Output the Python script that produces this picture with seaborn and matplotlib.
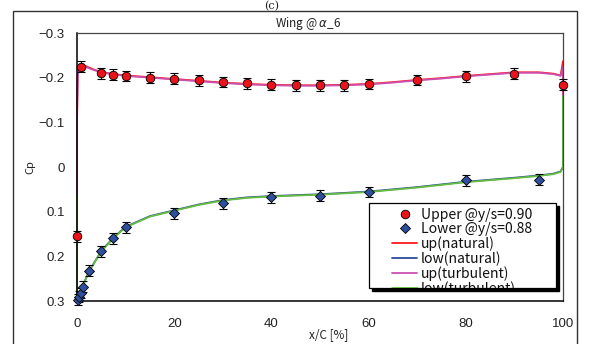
import matplotlib
matplotlib.use("Agg")
import matplotlib.pyplot as plt
from matplotlib.patches import Rectangle
from matplotlib.lines import Line2D
import seaborn as sns

# Measured pressure coefficients
upper_x = [0, 0.8, 5, 7.5, 10, 15, 20, 25, 30, 35, 40, 45, 50, 55, 60, 70, 80, 90, 100]
upper_cp = [0.155, -0.225, -0.210, -0.207, -0.204, -0.200, -0.198, -0.194, -0.190, -0.187,
            -0.184, -0.183, -0.183, -0.183, -0.186, -0.195, -0.203, -0.209, -0.184]
lower_x = [0.2, 0.5, 0.8, 1.25, 2.5, 5, 7.5, 10, 20, 30, 40, 50, 60, 80, 95]
lower_cp = [0.297, 0.290, 0.282, 0.268, 0.232, 0.189, 0.160, 0.135, 0.1035, 0.081, 0.0675,
            0.064, 0.056, 0.030, 0.028]
cp_err = 0.012

# Computed distributions
calc_up_x = [0, 0, 0.15, 0.5, 1, 2, 3.5, 5, 7.5, 10, 15, 20, 25, 30, 35, 40, 45, 50, 55, 60,
             65, 70, 75, 80, 85, 90, 95, 98, 99.5, 100, 100]
up_natural = [0.30, -0.10, -0.205, -0.226, -0.230, -0.225, -0.218, -0.213, -0.208, -0.205,
              -0.201, -0.197, -0.193, -0.189, -0.186, -0.184, -0.183, -0.183, -0.184, -0.186,
              -0.190, -0.195, -0.199, -0.204, -0.208, -0.212, -0.212, -0.209, -0.205, -0.237, -0.159]
up_turbulent = [0.30, -0.10, -0.203, -0.224, -0.228, -0.223, -0.217, -0.212, -0.207, -0.204,
                -0.200, -0.196, -0.192, -0.188, -0.185, -0.183, -0.182, -0.182, -0.183, -0.185,
                -0.189, -0.194, -0.198, -0.203, -0.207, -0.211, -0.211, -0.208, -0.204, -0.225, -0.159]
calc_low_x = [0, 0, 0.3, 1, 2.5, 5, 7.5, 10, 15, 20, 25, 30, 35, 40, 50, 60, 70, 80, 90, 95,
              98, 99.5, 100, 100]
low_natural = [0.062, 0.298, 0.290, 0.270, 0.233, 0.188, 0.158, 0.134, 0.110, 0.097, 0.084,
               0.074, 0.068, 0.065, 0.061, 0.055, 0.045, 0.033, 0.024, 0.019, 0.015, 0.010, 0.0, -0.159]
low_turbulent = [0.062, 0.298, 0.291, 0.271, 0.234, 0.189, 0.159, 0.135, 0.111, 0.098, 0.085,
                 0.075, 0.069, 0.066, 0.062, 0.056, 0.046, 0.034, 0.025, 0.020, 0.016, 0.011, 0.0, -0.159]

x_ticks = [0, 20, 40, 60, 80, 100]
y_ticks = [-0.3, -0.2, -0.1, 0.0, 0.1, 0.2, 0.3]
y_tick_labels = ["\u22120.3", "\u22120.2", "\u22120.1", "0", "0.1", "0.2", "0.3"]

legend_labels = ["Upper @y/s=0.90", "Lower @y/s=0.88", "up(natural)", "low(natural)",
                 "up(turbulent)", "low(turbulent)"]

sns.set_style("white")
plt.rcParams["font.family"] = ["Liberation Sans", "DejaVu Sans"]

RED = "#ff1a1a"
BLUE = "#2c4a9c"
MAGENTA = "#cc4fb0"
GREEN = "#63bd3f"
MARK_RED = "#e8141c"
MARK_BLUE = "#2e4f9e"

fig = plt.figure(figsize=(5.89, 3.44), dpi=100)
ax = fig.add_axes([77 / 589, 43 / 344, 486 / 589, 268 / 344])

# chart-area border
fig.patches.append(Rectangle((13 / 589, -0.05), 564 / 589, 1.05 - 11 / 344,
                             transform=fig.transFigure, fill=False,
                             edgecolor="#333333", linewidth=1.0))

curve_kw = dict(ax=ax, sort=False, estimator=None, linewidth=1.3, clip_on=False, zorder=2)
sns.lineplot(x=calc_up_x, y=up_natural, color=RED, **curve_kw)
sns.lineplot(x=calc_low_x, y=low_natural, color=BLUE, **curve_kw)
sns.lineplot(x=calc_up_x, y=up_turbulent, color=MAGENTA, **curve_kw)
sns.lineplot(x=calc_low_x, y=low_turbulent, color=GREEN, **curve_kw)

err_kw = dict(fmt="none", ecolor="black", elinewidth=0.8, capsize=3, capthick=0.8,
              zorder=3, clip_on=False)
ax.errorbar(upper_x, upper_cp, yerr=cp_err, **err_kw)
ax.errorbar(lower_x, lower_cp, yerr=cp_err, **err_kw)

sns.scatterplot(x=upper_x, y=upper_cp, ax=ax, marker="o", s=38, color=MARK_RED,
                edgecolor="black", linewidth=0.6, zorder=4, clip_on=False)
sns.scatterplot(x=lower_x, y=lower_cp, ax=ax, marker="D", s=26, color=MARK_BLUE,
                edgecolor="black", linewidth=0.6, zorder=4, clip_on=False)

ax.set_xlim(0, 100)
ax.set_ylim(0.3, -0.3)
ax.set_xticks(x_ticks)
ax.set_xticklabels([str(v) for v in x_ticks])
ax.set_yticks(y_ticks)
ax.set_yticklabels(y_tick_labels)
ax.tick_params(axis="both", direction="in", length=4, width=0.8, color="black",
               labelsize=9.5, labelcolor="#222222")
ax.tick_params(axis="y", pad=9)
ax.tick_params(axis="x", pad=12)
ax.set_xlabel("")
ax.set_ylabel("")
for side in ["left", "bottom"]:
    ax.spines[side].set_color("black")
    ax.spines[side].set_linewidth(1.1)
for side in ["top", "right"]:
    ax.spines[side].set_color("#444444")
    ax.spines[side].set_linewidth(0.9)

fig.text(30 / 589, 1 - 167 / 344, "Cp", rotation=90, ha="center", va="center",
         fontsize=8, color="#222222", family=["Noto Sans CJK JP", "DejaVu Sans"])
fig.text(329 / 589, 1 - 335 / 344, "x/C [%]", ha="center", va="center",
         fontsize=8.5, color="#222222", family=["Noto Sans CJK JP", "DejaVu Sans"])
fig.text(308 / 589, 1 - 23 / 344, "Wing @ $\\alpha$_6", ha="center", va="center",
         fontsize=8.5, color="#222222", family=["Noto Sans CJK JP", "DejaVu Sans"])
fig.text(272 / 589, 1 - 0.5 / 344, "(c)", ha="center", va="top",
         fontsize=8, color="#222222", family=["DejaVu Serif"])

# legend box with drop shadow; entries past its lower edge are cut off
box_x0, box_x1 = (369 - 77) / 486, (556 - 77) / 486
box_y0, box_y1 = (301 - 288) / 268, (301 - 203) / 268
shadow = Rectangle((box_x0 + 3 / 486, box_y0 - 3 / 268), box_x1 - box_x0, box_y1 - box_y0,
                   transform=ax.transAxes, facecolor="black", edgecolor="black", zorder=5)
frame = Rectangle((box_x0, box_y0), box_x1 - box_x0, box_y1 - box_y0,
                  transform=ax.transAxes, facecolor="white", edgecolor="black",
                  linewidth=0.9, zorder=6)
ax.add_patch(shadow)
ax.add_patch(frame)

handles = [
    Line2D([], [], linestyle="none", marker="o", markersize=6.2, markerfacecolor=MARK_RED,
           markeredgecolor="black", markeredgewidth=0.6),
    Line2D([], [], linestyle="none", marker="D", markersize=5.2, markerfacecolor=MARK_BLUE,
           markeredgecolor="black", markeredgewidth=0.6),
    Line2D([], [], color=RED, linewidth=1.3),
    Line2D([], [], color=BLUE, linewidth=1.3),
    Line2D([], [], color=MAGENTA, linewidth=1.3),
    Line2D([], [], color=GREEN, linewidth=2.0),
]
leg = ax.legend(handles, legend_labels, loc="upper left",
                bbox_to_anchor=((392 - 77) / 486, (301 - 208) / 268),
                frameon=False, borderpad=0, borderaxespad=0, handlelength=1.8,
                handletextpad=0.25, labelspacing=0.02,
                prop={"family": ["Noto Sans CJK JP", "DejaVu Sans"], "size": 10.1})
leg.set_zorder(7)
for t in leg.get_texts():
    t.set_color("#111111")
    t.set_clip_path(frame)
for h in leg.legend_handles:
    h.set_clip_path(frame)

fig.savefig("out.png", dpi=100)
